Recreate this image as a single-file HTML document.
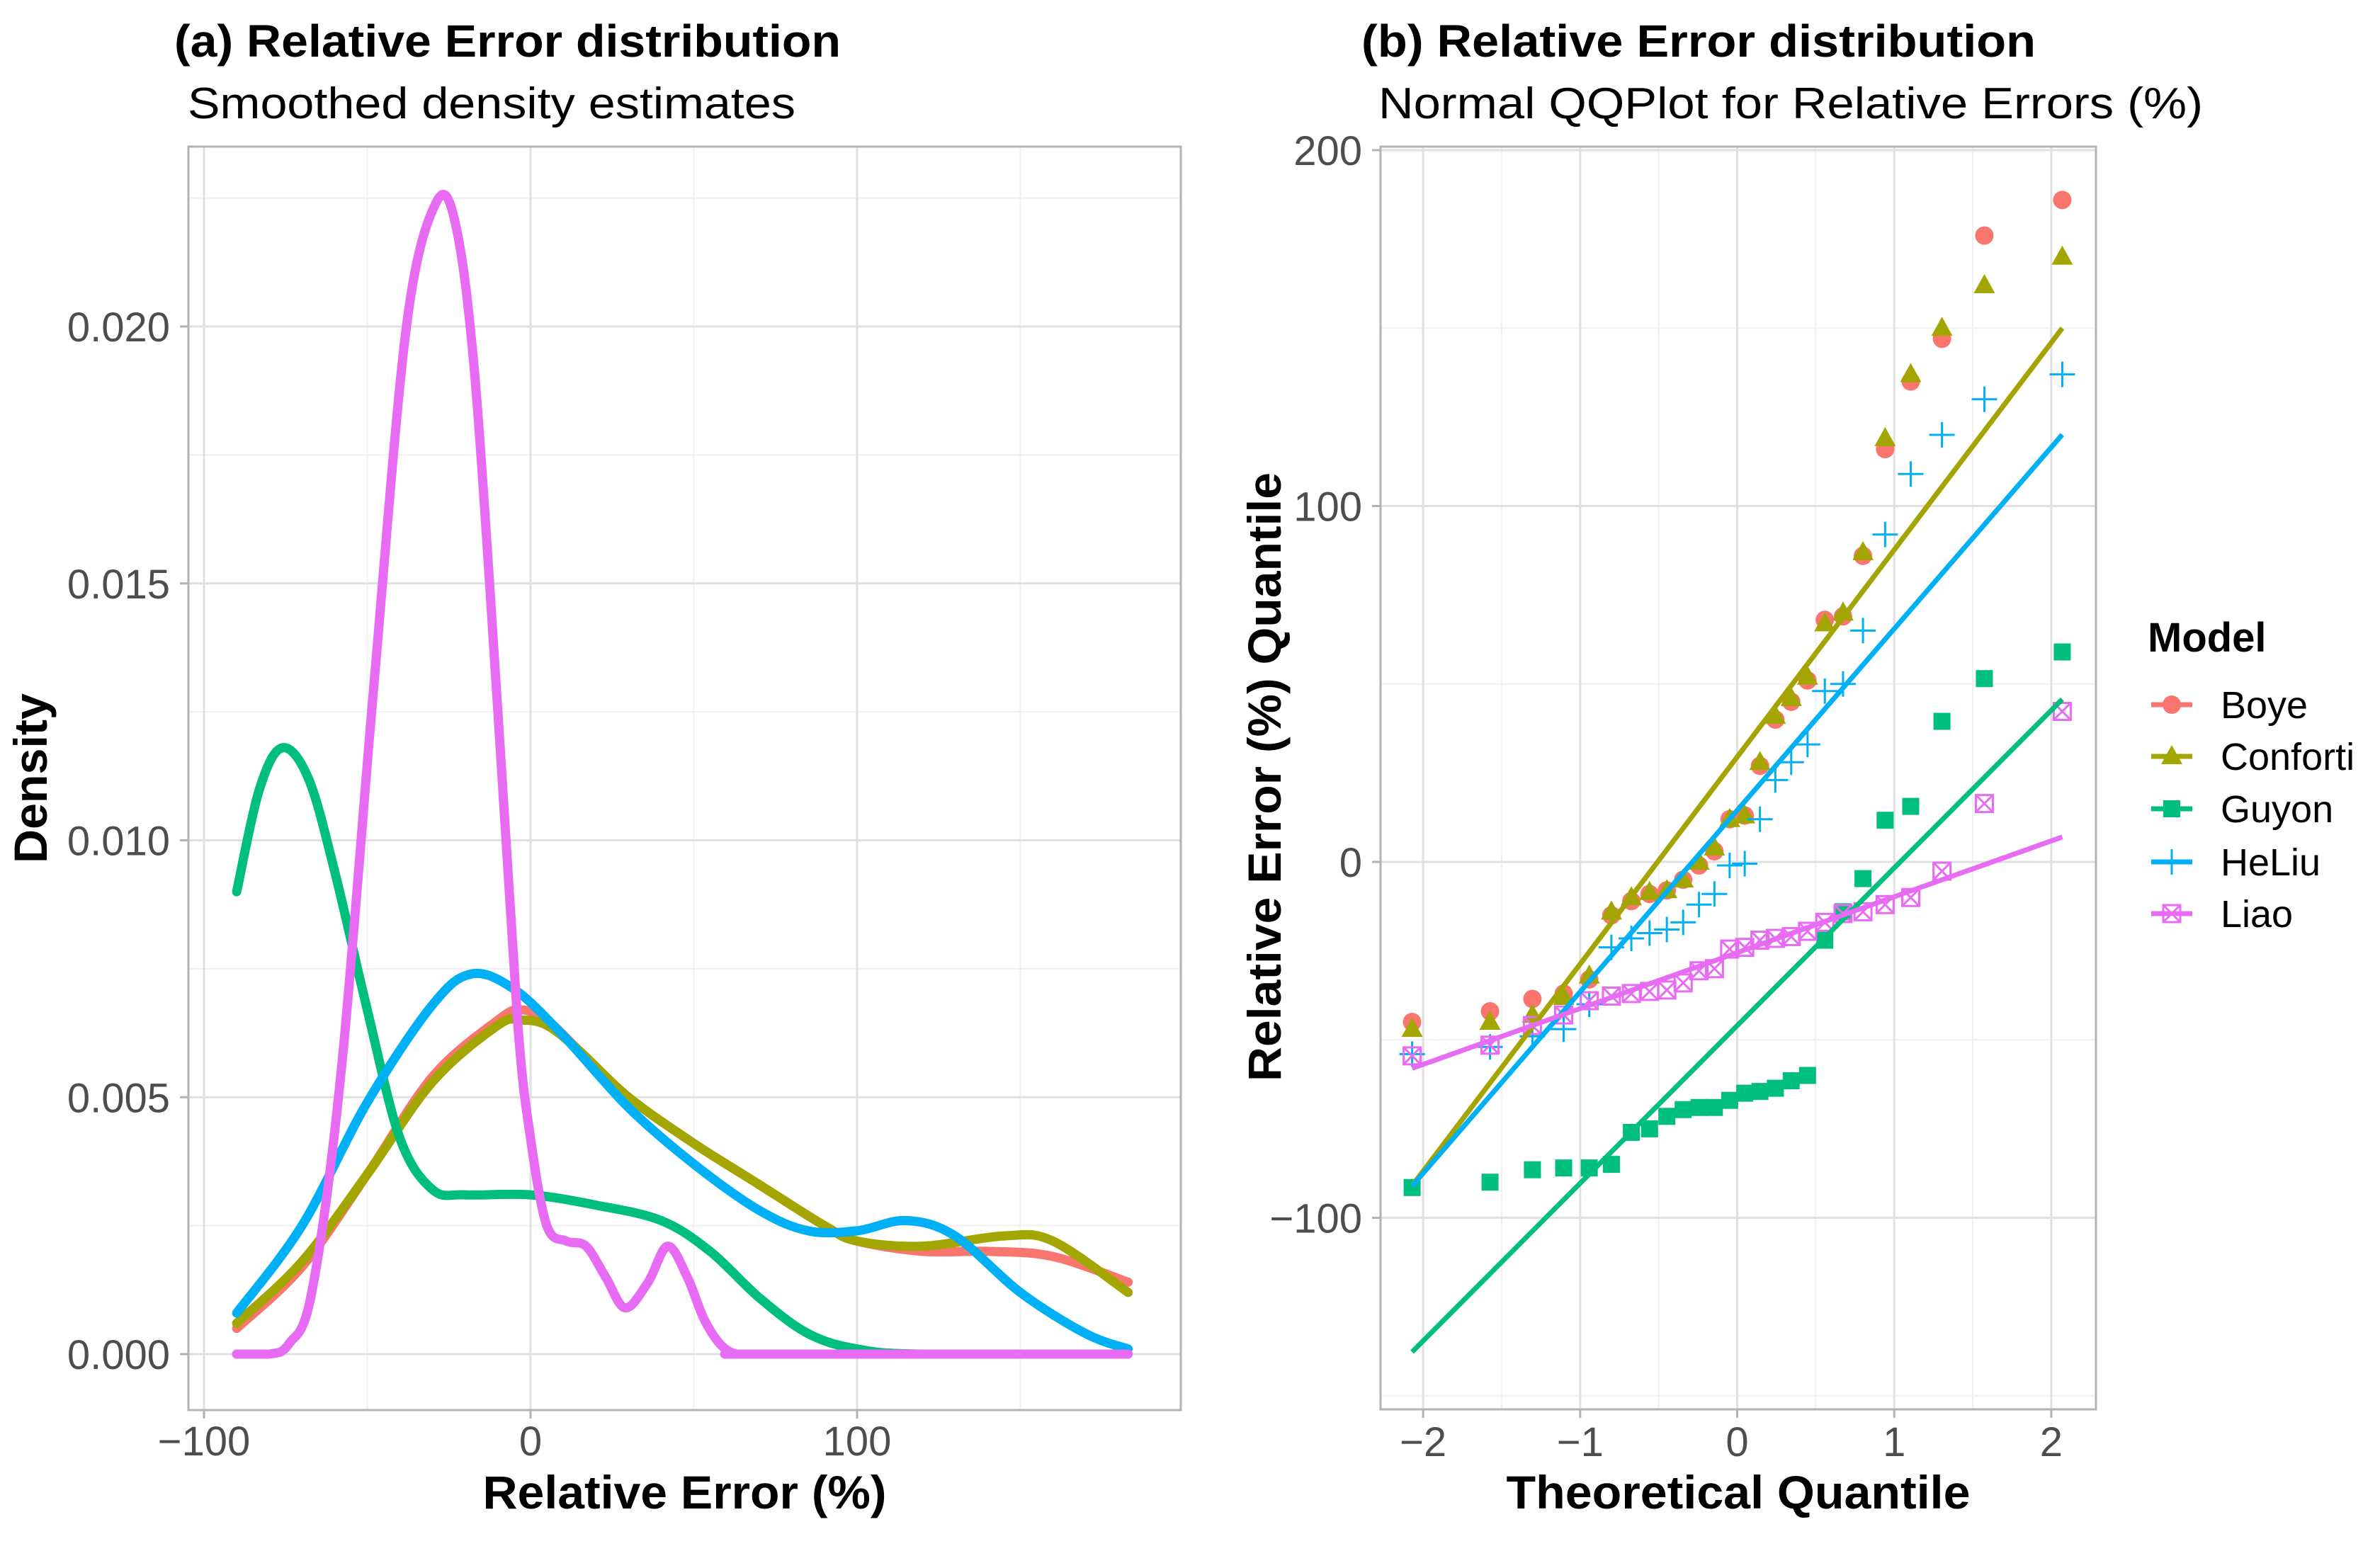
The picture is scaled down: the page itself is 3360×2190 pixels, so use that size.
<!DOCTYPE html>
<html><head><meta charset="utf-8"><style>
html,body{margin:0;padding:0;background:#fff;}
svg{display:block;font-family:"Liberation Sans",Arial,sans-serif;}
</style></head><body>
<svg id="fig" width="3360" height="2190" viewBox="0 0 3360 2190" xmlns="http://www.w3.org/2000/svg">
<rect x="0" y="0" width="3360" height="2190" fill="#fff"/>
<text x="246" y="80" font-size="64" font-weight="bold" textLength="941" lengthAdjust="spacingAndGlyphs">(a) Relative Error distribution</text>
<text x="265" y="167" font-size="62" textLength="858" lengthAdjust="spacingAndGlyphs">Smoothed density estimates</text>
<text x="1922" y="80" font-size="64" font-weight="bold" textLength="952" lengthAdjust="spacingAndGlyphs">(b) Relative Error distribution</text>
<text x="1946" y="167" font-size="62" textLength="1164" lengthAdjust="spacingAndGlyphs">Normal QQPlot for Relative Errors (%)</text>
<g id="pa"></g>
<g id="pb"></g>
<g id="leg"></g>
</svg>
<script>
// ---------- data ----------
const models = ["Boye","Conforti","Guyon","HeLiu","Liao"];
const colors = ["#F8766D","#A3A500","#00BF7D","#00B0F6","#E76BF3"];
const densX_Boye = [-90,-70,-50,-30,-10,-3,5,15,30,50,70,90,100,120,140,160,183];
const densY_Boye = [0.0005,0.0017,0.0035,0.0054,0.0065,0.0067,0.0065,0.0059,0.0050,0.0041,0.0033,0.0025,0.0022,0.0020,0.0020,0.0019,0.0014];
const densX_Conforti = [-90,-70,-50,-30,-10,-3,5,15,30,50,70,90,100,120,145,160,183];
const densY_Conforti = [0.0006,0.0018,0.0035,0.0053,0.0064,0.0065,0.0064,0.0059,0.0050,0.0041,0.0033,0.0025,0.0022,0.0021,0.0023,0.0022,0.0012];
const densX_HeLiu = [-90,-70,-50,-30,-18,-5,10,30,50,70,85,100,115,130,150,170,183];
const densY_HeLiu = [0.0008,0.0025,0.0049,0.0068,0.0074,0.0071,0.0062,0.0048,0.0037,0.0028,0.0024,0.0024,0.0026,0.0023,0.0012,0.0004,0.0001];
const densX_Guyon = [-90,-83,-76,-68,-60,-50,-40,-30,-20,0,20,40,55,70,85,100,120,183];
const densY_Guyon = [0.0090,0.0110,0.0118,0.0112,0.0094,0.0067,0.0042,0.0032,0.0031,0.0031,0.0029,0.0026,0.0020,0.0011,0.0004,0.0001,0.0,0.0];
const densX_Liao = [-90,-80,-74,-67,-58,-48,-38,-29,-23,-17,-10,-4,0,5,11,17,23,29,36,42,48,53,58,63,70,183];
const densY_Liao = [0.0,0.0,0.0002,0.0012,0.0055,0.0130,0.0200,0.0224,0.0220,0.0190,0.0125,0.0065,0.0042,0.0025,0.0022,0.0021,0.0015,0.0009,0.0014,0.0021,0.0015,0.0007,0.0002,0.0,0.0,0.0];
const densXs = [densX_Boye,densX_Conforti,densX_Guyon,densX_HeLiu,densX_Liao];
const densYs = [densY_Boye,densY_Conforti,densY_Guyon,densY_HeLiu,densY_Liao];
const aXTicks = [-100,0,100];
const aYTicks = [0,0.005,0.010,0.015,0.020];
const aYTickLabels = ["0.000","0.005","0.010","0.015","0.020"];
const theoQ = [-2.07,-1.574,-1.304,-1.105,-0.942,-0.801,-0.674,-0.558,-0.448,-0.344,-0.243,-0.145,-0.048,0.048,0.145,0.243,0.344,0.448,0.558,0.674,0.801,0.942,1.105,1.304,1.574,2.07];
const qq_Boye = [-45,-42,-38.5,-37,-33,-15,-11,-9,-8,-5,-1,3,12,13,27,40,45,51,68,69,86,116,135,147,176,186];
const qq_Conforti = [-47,-45,-43,-38,-32,-14,-10,-8.5,-8,-5,0,4,12,13,28,41,46,52,67,70,87,119,137,150,162,170];
const qq_Guyon = [-91.5,-90,-86.5,-86,-86,-85,-76,-75,-71.5,-69.6,-69,-69,-67,-65,-64.5,-63.6,-61.5,-60,-22,-14,-4.7,11.7,15.6,39.5,51.5,59];
const qq_HeLiu = [-54,-52,-49,-47,-40,-24,-21.5,-20,-19,-17,-12,-9,-1,-0.5,12,23,28,33,48,50,65,92,109,120,130,137];
const qq_Liao = [-54.5,-51.5,-46,-43,-39,-37.7,-37,-36.4,-36,-34,-30.6,-30,-24.5,-24,-22,-21.5,-21,-19.5,-17,-14.5,-14,-12,-10,-2.6,16.4,42.3];
const qqVals = [qq_Boye,qq_Conforti,qq_Guyon,qq_HeLiu,qq_Liao];
const lineIntercept = [29.5,29.5,-46,14.5,-25.5];
const lineSlope = [58.2,58.2,44.3,51,15.7];
const bXTicks = [-2,-1,0,1,2];
const bYTicks = [-100,0,100,200];

// ---------- helpers ----------
const NS="http://www.w3.org/2000/svg";
function mk(parent,tag,attrs,text){const e=document.createElementNS(NS,tag);for(const k in attrs)e.setAttribute(k,attrs[k]);if(text!==undefined)e.textContent=text;parent.appendChild(e);return e;}
function smooth(pts,ymax){const cl=y=>ymax===undefined?y:Math.min(y,ymax);let d="M"+pts[0][0].toFixed(1)+","+pts[0][1].toFixed(1);for(let i=0;i<pts.length-1;i++){const p0=pts[Math.max(0,i-1)],p1=pts[i],p2=pts[i+1],p3=pts[Math.min(pts.length-1,i+2)];const c1=[p1[0]+(p2[0]-p0[0])/6,cl(p1[1]+(p2[1]-p0[1])/6)],c2=[p2[0]-(p3[0]-p1[0])/6,cl(p2[1]-(p3[1]-p1[1])/6)];d+="C"+c1[0].toFixed(1)+","+c1[1].toFixed(1)+" "+c2[0].toFixed(1)+","+c2[1].toFixed(1)+" "+p2[0].toFixed(1)+","+p2[1].toFixed(1);}return d;}

// ---------- panel a ----------
const A={l:266,r:1667,t:207,b:1991};
const xa=v=>749+v*4.61, ya=d=>1912-d*72550;
const pa=document.getElementById('pa');
[-50,50,150].forEach(v=>{const e=mk(pa,'line',{x1:xa(v),x2:xa(v),y1:A.t,y2:A.b,stroke:'#f0f0f0','stroke-width':2});});
[0.0025,0.0075,0.0125,0.0175,0.0225].forEach(v=>{const e=mk(pa,'line',{x1:A.l,x2:A.r,y1:ya(v),y2:ya(v),stroke:'#f0f0f0','stroke-width':2});});
aXTicks.forEach(v=>{const e=mk(pa,'line',{x1:xa(v),x2:xa(v),y1:A.t,y2:A.b,stroke:'#e0e0e0','stroke-width':3});
 const t=mk(pa,'line',{x1:xa(v),x2:xa(v),y1:A.b,y2:A.b+12,stroke:'#b3b3b3','stroke-width':3});
 const l=mk(pa,'text',{x:xa(v),y:2055,'font-size':58,fill:'#4d4d4d','text-anchor':'middle'},v<0?"\u2212"+(-v):String(v));});
aYTicks.forEach((v,i)=>{const e=mk(pa,'line',{x1:A.l,x2:A.r,y1:ya(v),y2:ya(v),stroke:'#e0e0e0','stroke-width':3});
 const t=mk(pa,'line',{x1:A.l-12,x2:A.l,y1:ya(v),y2:ya(v),stroke:'#b3b3b3','stroke-width':3});
 const l=mk(pa,'text',{x:240,y:ya(v)+21,'font-size':58,fill:'#4d4d4d','text-anchor':'end'},aYTickLabels[i]);});
models.forEach((m,k)=>{const pts=densXs[k].map((x,i)=>[xa(x),ya(densYs[k][i])]);const p=mk(pa,'path',{d:smooth(pts,ya(0)),fill:'none',stroke:colors[k],'stroke-width':13,'stroke-linecap':'round','stroke-linejoin':'round'});});
{const b=mk(pa,'rect',{x:A.l,y:A.t,width:A.r-A.l,height:A.b-A.t,fill:'none',stroke:'#b3b3b3','stroke-width':3});}
{const t=mk(pa,'text',{x:(A.l+A.r)/2,y:2130,'font-size':66,'font-weight':'bold','text-anchor':'middle',textLength:570,lengthAdjust:'spacingAndGlyphs'},'Relative Error (%)');}
{const t=mk(pa,'text',{x:0,y:0,'font-size':66,'font-weight':'bold','text-anchor':'middle',transform:'translate(66,1099) rotate(-90)',textLength:240,lengthAdjust:'spacingAndGlyphs'},'Density');}

// ---------- panel b ----------
const B={l:1949,r:2959,t:207,b:1990};
const xb=q=>2452.5+q*221.7, yb=v=>1217-v*5.025;
const pb=document.getElementById('pb');
[-1.5,-0.5,0.5,1.5].forEach(v=>{const e=mk(pb,'line',{x1:xb(v),x2:xb(v),y1:B.t,y2:B.b,stroke:'#f0f0f0','stroke-width':2});});
[-150,-50,50,150].forEach(v=>{const e=mk(pb,'line',{x1:B.l,x2:B.r,y1:yb(v),y2:yb(v),stroke:'#f0f0f0','stroke-width':2});});
bXTicks.forEach(v=>{const e=mk(pb,'line',{x1:xb(v),x2:xb(v),y1:B.t,y2:B.b,stroke:'#e0e0e0','stroke-width':3});
 const t=mk(pb,'line',{x1:xb(v),x2:xb(v),y1:B.b,y2:B.b+12,stroke:'#b3b3b3','stroke-width':3});
 const l=mk(pb,'text',{x:xb(v),y:2056,'font-size':58,fill:'#4d4d4d','text-anchor':'middle'},v<0?"\u2212"+(-v):String(v));});
bYTicks.forEach(v=>{const e=mk(pb,'line',{x1:B.l,x2:B.r,y1:yb(v),y2:yb(v),stroke:'#e0e0e0','stroke-width':3});
 const t=mk(pb,'line',{x1:B.l-12,x2:B.l,y1:yb(v),y2:yb(v),stroke:'#b3b3b3','stroke-width':3});
 const l=mk(pb,'text',{x:1923,y:yb(v)+21,'font-size':58,fill:'#4d4d4d','text-anchor':'end'},v<0?"\u2212"+(-v):String(v));});
function marker(g,k,cx,cy){
 const c=colors[k];
 if(k===0){mk(g,'circle',{cx:cx,cy:cy,r:13,fill:c});}
 else if(k===1){mk(g,'polygon',{points:(cx)+","+(cy-16)+" "+(cx+15)+","+(cy+11)+" "+(cx-15)+","+(cy+11),fill:c});}
 else if(k===2){mk(g,'rect',{x:cx-12,y:cy-12,width:24,height:24,fill:c});}
 else if(k===3){mk(g,'path',{d:"M"+(cx-18)+","+cy+"H"+(cx+18)+"M"+cx+","+(cy-18)+"V"+(cy+18),stroke:c,'stroke-width':3,fill:'none'});}
 else {mk(g,'path',{d:"M"+(cx-12)+","+(cy-12)+"h24v24h-24zM"+(cx-12)+","+(cy-12)+"l24,24M"+(cx+12)+","+(cy-12)+"l-24,24",stroke:c,'stroke-width':3,fill:'none'});}
}
models.forEach((m,k)=>{
 const g=mk(pb,'g',{});
 theoQ.forEach((q,i)=>marker(g,k,xb(q),yb(qqVals[k][i])));
});
models.forEach((m,k)=>{
 const q0=theoQ[0],q1=theoQ[theoQ.length-1];
 const l=mk(pb,'line',{x1:xb(q0),y1:yb(lineIntercept[k]+lineSlope[k]*q0),x2:xb(q1),y2:yb(lineIntercept[k]+lineSlope[k]*q1),stroke:colors[k],'stroke-width':7});
 
});
{const b=mk(pb,'rect',{x:B.l,y:B.t,width:B.r-B.l,height:B.b-B.t,fill:'none',stroke:'#b3b3b3','stroke-width':3});}
{const t=mk(pb,'text',{x:(B.l+B.r)/2,y:2130,'font-size':66,'font-weight':'bold','text-anchor':'middle',textLength:655,lengthAdjust:'spacingAndGlyphs'},'Theoretical Quantile');}
{const t=mk(pb,'text',{x:0,y:0,'font-size':66,'font-weight':'bold','text-anchor':'middle',transform:'translate(1808,1097) rotate(-90)',textLength:860,lengthAdjust:'spacingAndGlyphs'},'Relative Error (%) Quantile');}

// ---------- legend ----------
const leg=document.getElementById('leg');
{const t=mk(leg,'text',{x:3032,y:920,'font-size':58,'font-weight':'bold'},'Model');}
const legY=[995,1068,1142,1217,1290];
models.forEach((m,k)=>{
 const g=mk(leg,'g',{});
 mk(g,'line',{x1:3037,x2:3095,y1:legY[k],y2:legY[k],stroke:colors[k],'stroke-width':7});
 marker(g,k,3066,legY[k]);
 mk(g,'text',{x:3135,y:legY[k]+19,'font-size':54},m);
});
</script>
</body></html>
